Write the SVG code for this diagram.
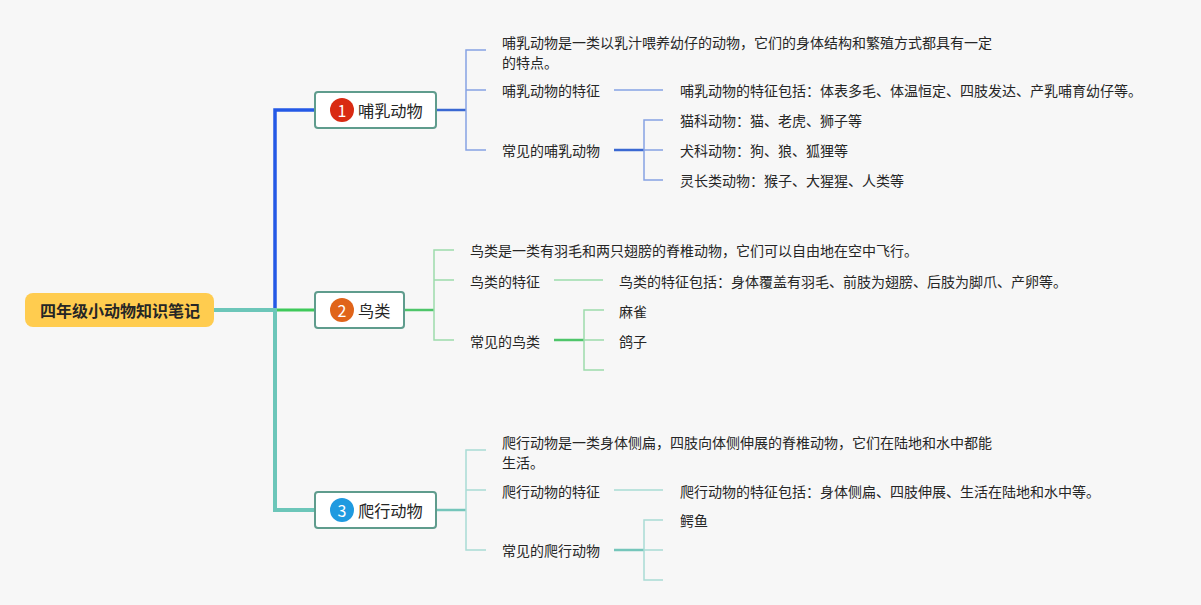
<svg xmlns="http://www.w3.org/2000/svg" width="1201" height="605" viewBox="0 0 1201 605">
<style>
text{font-family:"Noto Sans CJK SC","Noto Sans",sans-serif;fill:#262626}
.t{font-size:14px;dominant-baseline:central}
.n{font-size:16.2px;dominant-baseline:central}
.b{font-size:16px;fill:#fff;text-anchor:middle;dominant-baseline:central}
.box{fill:#fff;stroke:#5f9c8d;stroke-width:2}
.c{fill:none}
</style>
<rect width="1201" height="605" fill="#f7f7f7"/>
<g id="connectors" class="c">
<path d="M214 310H275" stroke="#6cc6b9" stroke-width="4"/>
<path d="M275 310V110H315" stroke="#2459e6" stroke-width="3.5"/>
<path d="M275 310H315" stroke="#3ec95a" stroke-width="3"/>
<path d="M275 308V510H315" stroke="#6cc6b9" stroke-width="4"/>
<path d="M436 110H466" stroke="#3a68d2" stroke-width="2.5"/>
<path d="M486 50H466V150H486M466 90H486" stroke="#86a3e4" stroke-width="1.5"/>
<path d="M614 90H663" stroke="#86a3e4" stroke-width="1.5"/>
<path d="M614 150H644" stroke="#3a68d2" stroke-width="2.5"/>
<path d="M663 120H644V180H663M644 150H663" stroke="#86a3e4" stroke-width="1.5"/>
<path d="M404 310H434" stroke="#4ec56a" stroke-width="2.5"/>
<path d="M454 250H434V340H454M434 280H454" stroke="#9ddcac" stroke-width="1.5"/>
<path d="M554 280H603" stroke="#9ddcac" stroke-width="1.5"/>
<path d="M554 340H584" stroke="#4ec56a" stroke-width="2.5"/>
<path d="M604 310H584V370H604M584 340H604" stroke="#9ddcac" stroke-width="1.5"/>
<path d="M436 510H466" stroke="#75c6bb" stroke-width="2.5"/>
<path d="M486 450H466V550H486M466 490H486" stroke="#a9dcd5" stroke-width="1.5"/>
<path d="M614 490H663" stroke="#a9dcd5" stroke-width="1.5"/>
<path d="M614 550H644" stroke="#75c6bb" stroke-width="2.5"/>
<path d="M663 520H644V580H663M644 550H663" stroke="#a9dcd5" stroke-width="1.5"/>
</g>
<g id="root">
<rect x="25" y="293" width="189" height="34" rx="8" fill="#ffcc4f"/>
<text x="120" y="310" text-anchor="middle" style="font-size:16px;font-weight:bold;dominant-baseline:central">四年级小动物知识笔记</text>
</g>
<g id="node1">
<rect class="box" x="315" y="92" width="121" height="36" rx="3"/>
<circle cx="342" cy="110" r="12" fill="#d92a12"/>
<text class="b" x="342" y="110">1</text>
<text class="n" x="358" y="110">哺乳动物</text>
</g>
<g id="node2">
<rect class="box" x="315" y="292" width="89" height="36" rx="3"/>
<circle cx="342" cy="310" r="12" fill="#e0641a"/>
<text class="b" x="342" y="310">2</text>
<text class="n" x="358" y="310">鸟类</text>
</g>
<g id="node3">
<rect class="box" x="315" y="492" width="121" height="36" rx="3"/>
<circle cx="342" cy="510" r="12" fill="#1f9ae0"/>
<text class="b" x="342" y="510">3</text>
<text class="n" x="358" y="510">爬行动物</text>
</g>
<g id="m1"><text class="t" x="502" y="42">哺乳动物是一类以乳汁喂养幼仔的动物，它们的身体结构和繁殖方式都具有一定</text><text class="t" x="502" y="62">的特点。</text></g>
<g id="m2"><text class="t" x="502" y="90">哺乳动物的特征</text></g>
<g id="m2a"><text class="t" x="680" y="90">哺乳动物的特征包括：体表多毛、体温恒定、四肢发达、产乳哺育幼仔等。</text></g>
<g id="m3"><text class="t" x="502" y="150">常见的哺乳动物</text></g>
<g id="m3a"><text class="t" x="680" y="120">猫科动物：猫、老虎、狮子等</text></g>
<g id="m3b"><text class="t" x="680" y="150">犬科动物：狗、狼、狐狸等</text></g>
<g id="m3c"><text class="t" x="680" y="180">灵长类动物：猴子、大猩猩、人类等</text></g>
<g id="b1"><text class="t" x="470" y="250">鸟类是一类有羽毛和两只翅膀的脊椎动物，它们可以自由地在空中飞行。</text></g>
<g id="b2"><text class="t" x="470" y="281">鸟类的特征</text></g>
<g id="b2a"><text class="t" x="619" y="281">鸟类的特征包括：身体覆盖有羽毛、前肢为翅膀、后肢为脚爪、产卵等。</text></g>
<g id="b3"><text class="t" x="470" y="341">常见的鸟类</text></g>
<g id="b3a"><text class="t" x="619" y="311">麻雀</text></g>
<g id="b3b"><text class="t" x="619" y="341">鸽子</text></g>
<g id="r1"><text class="t" x="502" y="442">爬行动物是一类身体侧扁，四肢向体侧伸展的脊椎动物，它们在陆地和水中都能</text><text class="t" x="502" y="462">生活。</text></g>
<g id="r2"><text class="t" x="502" y="491">爬行动物的特征</text></g>
<g id="r2a"><text class="t" x="680" y="491">爬行动物的特征包括：身体侧扁、四肢伸展、生活在陆地和水中等。</text></g>
<g id="r3"><text class="t" x="502" y="550">常见的爬行动物</text></g>
<g id="r3a"><text class="t" x="680" y="520">鳄鱼</text></g>
</svg>
